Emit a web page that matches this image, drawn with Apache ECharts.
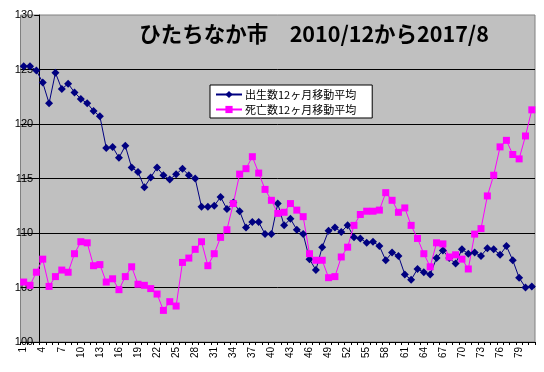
<!DOCTYPE html>
<html><head><meta charset="utf-8">
<script src="https://cdn.jsdelivr.net/npm/echarts@6/dist/echarts.min.js"></script>
<style>html,body{margin:0;padding:0;background:#fff}#c{width:544px;height:372px}</style>
</head><body><div id="c"></div>
<script>
const categories = Array.from({length: 81}, (_, i) => String(i + 1));
const births = [125.3,125.3,124.9,123.8,121.9,124.7,123.2,123.7,122.9,122.3,121.9,121.2,120.7,117.8,117.9,116.9,118.0,116.0,115.6,114.2,115.1,116.0,115.3,114.9,115.4,115.9,115.3,115.0,112.4,112.4,112.5,113.3,112.2,112.8,112.0,110.5,111.0,111.0,109.9,109.9,112.7,110.7,111.3,110.3,109.9,107.6,106.6,108.7,110.2,110.5,110.1,110.7,109.6,109.5,109.1,109.2,108.8,107.5,108.2,107.9,106.2,105.7,106.7,106.4,106.2,107.7,108.4,107.7,107.2,108.5,108.1,108.2,107.9,108.6,108.5,108.0,108.8,107.5,105.9,105.0,105.1];
const deaths = [105.5,105.2,106.4,107.6,105.1,106.0,106.6,106.4,108.1,109.2,109.1,107.0,107.1,105.5,105.8,104.8,106.0,106.9,105.3,105.2,104.9,104.4,102.9,103.7,103.3,107.3,107.7,108.5,109.2,107.0,108.1,109.6,110.3,112.7,115.4,115.9,117.0,115.5,114.0,113.0,111.8,111.9,112.7,112.1,111.5,108.1,107.5,107.5,105.9,106.0,107.8,108.7,110.7,111.7,112.0,112.0,112.1,113.7,113.0,111.9,112.3,110.7,109.5,108.1,106.9,109.1,109.0,107.8,108.0,107.6,106.7,109.9,110.4,113.4,115.3,117.9,118.5,117.2,116.8,118.9,121.3];
const seriesNames = ['出生数12ヶ月移動平均', '死亡数12ヶ月移動平均'];
const titleText = 'ひたちなか市　2010/12から2017/8';

const chart = echarts.init(document.getElementById('c'), null, {renderer: 'canvas'});
chart.setOption({
  animation: false,
  backgroundColor: '#ffffff',
  title: {
    text: titleText, left: 309, top: 18, textAlign: 'center',
    textStyle: {fontFamily: 'Noto Sans CJK JP', fontWeight: 'bold', fontSize: 21.5, color: '#000'}
  },
  legend: {
    orient: 'vertical', left: 210, top: 85, width: 148,
    backgroundColor: '#ffffff', borderColor: '#000', borderWidth: 1,
    padding: [4, 16, 3, 5], itemWidth: 26, itemHeight: 9, itemGap: 4,
    textStyle: {fontFamily: 'Noto Sans CJK JP', fontSize: 11, color: '#000', padding: [0, 0, 0, -2]},
    data: seriesNames
  },
  grid: {left: 20.5, right: 9, top: 15, bottom: 30, show: true, backgroundColor: '#c0c0c0', borderColor: '#808080', borderWidth: 1, containLabel: false},
  xAxis: {
    type: 'category', data: categories, boundaryGap: true,
    axisLine: {lineStyle: {color: '#000', width: 1}},
    axisTick: {show: true, interval: 0, length: 3, lineStyle: {color: '#000'}},
    axisLabel: {interval: 2, rotate: 90, fontSize: 10, fontFamily: 'Liberation Sans', color: '#000', margin: 5},
    splitLine: {show: false}
  },
  yAxis: {
    type: 'value', min: 100, max: 130, interval: 5, offset: -18.7,
    axisLine: {show: true, lineStyle: {color: '#000', width: 1}},
    axisTick: {show: true, length: 5, lineStyle: {color: '#000'}},
    axisLabel: {fontSize: 11, fontFamily: 'Liberation Sans', color: '#000', margin: 6},
    splitLine: {show: true, showMaxLine: false, lineStyle: {color: '#000', width: 1}}
  },
  series: [
    {name: seriesNames[0], type: 'line', data: births, symbol: 'diamond', symbolSize: 8, showAllSymbol: true,
     lineStyle: {color: '#000080', width: 1}, itemStyle: {color: '#000080'}},
    {name: seriesNames[1], type: 'line', data: deaths, symbol: 'rect', symbolSize: 7, showAllSymbol: true,
     lineStyle: {color: '#ff00ff', width: 1}, itemStyle: {color: '#ff00ff'}}
  ]
});
</script></body></html>
